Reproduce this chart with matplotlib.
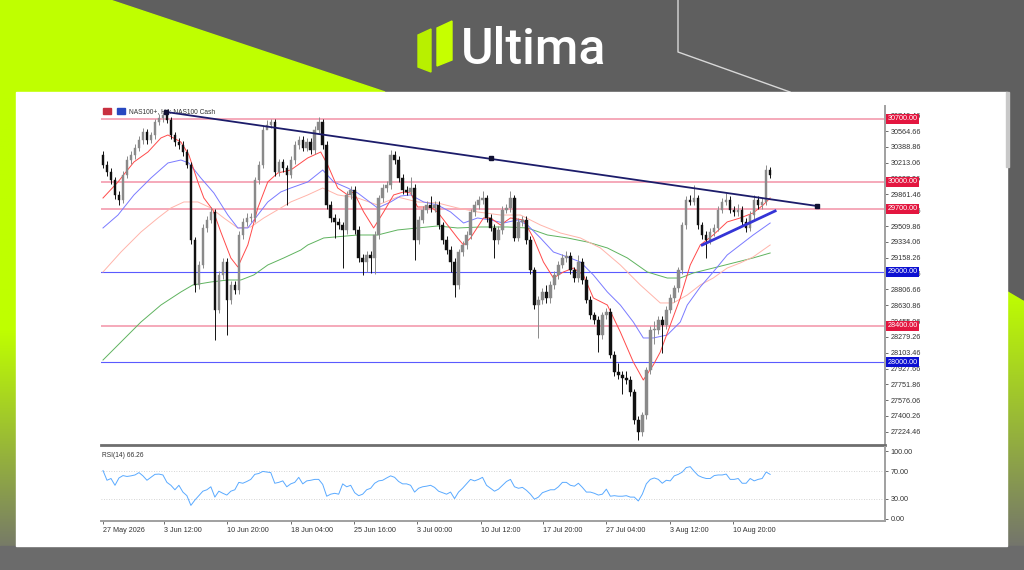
import matplotlib
matplotlib.use("Agg")
import matplotlib.pyplot as plt
import numpy as np
from matplotlib.patches import Polygon, Rectangle

# ---- candle data (NAS100, H4) ----
closes = [
    30190, 30110, 30020, 29855, 29800, 30080, 30245, 30300, 30380, 30465,
    30555, 30465, 30520, 30665, 30710, 30745, 30690, 30520, 30445, 30410,
    30335, 30190, 29355, 28855, 29080, 29490, 29580, 29665, 28580, 28965,
    29110, 28690, 28855, 28800, 29410, 29555, 29600, 29600, 30020, 30190,
    30580, 30635, 30665, 30110, 30220, 30155, 30080, 30245, 30410, 30465,
    30380, 30445, 30355, 30580, 30665, 30410, 29745, 29600, 29555, 29520,
    29465, 29855, 29910, 29465, 29155, 29110, 29190, 29155, 29410, 29820,
    29935, 29965, 30300, 30245, 30045, 29910, 29890, 29935, 29355, 29580,
    29690, 29745, 29710, 29745, 29520, 29355, 29245, 29110, 28855, 29220,
    29300, 29410, 29665, 29745, 29800, 29820, 29600, 29490, 29355, 29465,
    29690, 29710, 29820, 29380, 29555, 29580, 29355, 29020, 28635, 28690,
    28780, 28710, 28855, 28965, 29080, 29155, 29180, 29020, 28935, 29110,
    28910, 28690, 28520, 28465, 28300, 28520, 28555, 28080, 27890, 27855,
    27820, 27800, 27665, 27355, 27220, 27410, 27910, 28355, 28355, 28465,
    28410, 28580, 28710, 28820, 29020, 29520, 29800, 29780, 29820, 29520,
    29410, 29355, 29445, 29490, 29690, 29780, 29800, 29690, 29665, 29690,
    29555, 29490, 29635, 29800, 29745, 29780, 30135, 30080]
highs = [
    30340, 30230, 30150, 30060, 29900, 30120, 30290, 30345, 30420, 30510,
    30600, 30590, 30560, 30700, 30750, 30780, 30770, 30720, 30560, 30490,
    30450, 30370, 30220, 29390, 29120, 29530, 29620, 29720, 29700, 29010,
    29150, 29150, 28900, 28900, 29450, 29600, 29650, 29650, 30060, 30230,
    30620, 30690, 30700, 30700, 30260, 30260, 30190, 30290, 30450, 30510,
    30510, 30490, 30490, 30620, 30720, 30700, 30450, 29790, 29640, 29600,
    29560, 29900, 29950, 29950, 29510, 29200, 29230, 29230, 29450, 29860,
    29980, 30010, 30355, 30340, 30290, 30090, 29950, 30050, 29980, 29620,
    29730, 29790, 29840, 29790, 29790, 29560, 29400, 29290, 29150, 29260,
    29340, 29450, 29700, 29790, 29840, 29900, 29860, 29640, 29530, 29510,
    29730, 29750, 29900, 29860, 29600, 29620, 29620, 29400, 29060, 28730,
    28820, 28850, 28900, 29010, 29120, 29200, 29230, 29220, 29060, 29190,
    29150, 28950, 28730, 28560, 28510, 28560, 28600, 28600, 28120, 27990,
    27900, 27900, 27840, 27700, 27400, 27450, 27950, 28400, 28450, 28510,
    28510, 28620, 28750, 28860, 29060, 29560, 29840, 29850, 29965, 29860,
    29560, 29450, 29490, 29530, 29730, 29820, 29880, 29840, 29730, 29760,
    29730, 29600, 29680, 29850, 29840, 29820, 30190, 30170]
lows = [
    30150, 30070, 29980, 29810, 29745, 29770, 30040, 30200, 30260, 30340,
    30420, 30420, 30430, 30480, 30630, 30670, 30650, 30480, 30400, 30370,
    30290, 30150, 29310, 28780, 28810, 29040, 29440, 29540, 28245, 28540,
    28920, 28300, 28640, 28750, 28760, 29370, 29510, 29550, 29560, 29980,
    30150, 30590, 30600, 30070, 30070, 30110, 29745, 30040, 30200, 30370,
    30340, 30340, 30310, 30310, 30540, 30370, 29700, 29560, 29380, 29480,
    29045, 29420, 29810, 29420, 29110, 28965, 29000, 28990, 28980, 29370,
    29780, 29890, 29920, 30200, 30000, 29870, 29850, 29850, 29135, 29310,
    29540, 29650, 29670, 29670, 29480, 29310, 29200, 29000, 28720, 28810,
    29180, 29260, 29370, 29620, 29700, 29760, 29560, 29450, 29155, 29310,
    29420, 29650, 29670, 29340, 29340, 29510, 29310, 28980, 28590, 28265,
    28640, 28660, 28660, 28810, 28920, 29040, 29110, 28980, 28890, 28890,
    28870, 28650, 28480, 28420, 28110, 28260, 28480, 28040, 27850, 27810,
    27640, 27760, 27620, 27310, 27135, 27180, 27370, 27870, 28200, 28310,
    28100, 28370, 28540, 28670, 28780, 28980, 29480, 29740, 29740, 29480,
    29370, 29155, 29310, 29400, 29450, 29650, 29740, 29650, 29620, 29620,
    29510, 29445, 29450, 29590, 29700, 29700, 29740, 30040]
first_open = 30300
opens = [first_open] + closes[:-1]

rsi_values = [
    71.3, 57, 59.6, 49.6, 60.4, 63.9, 62.6, 63.5, 64.8, 68.3,
    63.5, 57, 61.3, 65.7, 66.1, 64.8, 53.9, 49.6, 43, 49.6,
    39.6, 34.3, 20.0, 27.8, 34.3, 40.9, 43, 47.4, 32.2, 40.9,
    37.8, 35.2, 40.9, 43, 53.9, 52.6, 55.2, 58.3, 65.7, 67,
    70, 69.1, 68.3, 52.6, 53.9, 56.1, 47.4, 51.7, 53.9, 61.3,
    51.7, 56.1, 57, 58.3, 58.3, 50.9, 33.5, 36.5, 37.8, 36.5,
    51.7, 47.4, 49.6, 38.7, 34.3, 36.5, 43, 45.2, 52.6, 56.1,
    57, 60.4, 63.5, 61.3, 55.2, 51.7, 51.7, 49.6, 39.6, 45.2,
    47.4, 48.3, 49.6, 46.5, 40.9, 38.7, 36.5, 39.6, 30, 39.6,
    45.2, 51.7, 58.3, 56.1, 58.3, 61.3, 49.6, 45.2, 40.9, 43.9,
    49.6, 55.2, 58.3, 47.4, 45.2, 46.5, 42.2, 36.5, 29.1, 32.2,
    38.7, 40.9, 43, 43, 47.4, 53.9, 53.9, 49.6, 48.3, 52.6,
    46.5, 39.6, 39.6, 37.8, 35.2, 36.5, 43.9, 33.5, 34.3, 33.5,
    33.5, 34.3, 32.2, 32.2, 26.5, 36.5, 51.7, 58.3, 60.4, 58.3,
    52.6, 57, 56.1, 63.5, 65.7, 69.1, 75.7, 77, 70, 63.9,
    61.3, 59.6, 59.6, 63.9, 64.8, 64.8, 66.1, 58.3, 58.3, 59.6,
    52.6, 52.6, 59.6, 56.1, 58.3, 59.6, 69.1, 65.7]

# moving averages, sampled along the chart (bar index, price)
ma_red_x = [0, 3.75, 7.75, 11.25, 14.5, 16.25, 19.5, 21.5, 23.75, 25.25, 27.5, 29.5, 32, 33.75,
            36.25, 38.75, 41.25, 43.75, 47, 51.25, 54.5, 56.25, 58.75, 61.25, 62.75, 65.25,
            67.75, 70.25, 72.75, 75.25, 77, 78.75, 82, 83.75, 86.25, 88.75, 90.25, 92, 95.25,
            97, 99.5, 102, 105.25, 107.75, 110.25, 112.75, 115.25, 117.75, 120.25, 122.75,
            126.25, 129.5, 132.75, 135.25, 137.75, 139.5, 142, 144.5, 147, 149.5, 152.75,
            156.25, 159.5, 162.75, 165.25, 167]
ma_red_y = [29822, 30000, 30222, 30333, 30489, 30522, 30444, 30300, 30000, 29822, 29689, 29444,
            29156, 29056, 29300, 29711, 30000, 30100, 30133, 30267, 30333, 30189, 29933, 29856,
            29889, 29667, 29489, 29667, 29856, 29889, 29878, 29722, 29722, 29667, 29522, 29378,
            29300, 29378, 29600, 29600, 29522, 29600, 29578, 29378, 29111, 28933, 29000, 29044,
            28967, 28711, 28633, 28333, 28000, 27800, 27967, 28111, 28411, 28711, 29078, 29300,
            29411, 29556, 29600, 29656, 29744, 29822]
ma_blue_x = [0, 3.75, 7.75, 12, 16.25, 19.5, 21.5, 24.5, 27.75, 31.25, 33.75, 36.25, 38.75,
             41.25, 44.5, 47, 51.25, 55, 57.75, 61.25, 63.75, 68.75, 72, 74.5, 77, 80.25, 83.75,
             87, 90.25, 93.75, 97, 100.25, 103.75, 106.25, 109.5, 112.75, 116.25, 119.5, 122.75,
             126.25, 129.5, 132.75, 135.25, 137.75, 141.25, 144.5, 146.25, 149.5, 152.75,
             156.25, 159.5, 162.75, 165.25, 167]
ma_blue_y = [29489, 29633, 29856, 30044, 30211, 30244, 30211, 30044, 29878, 29633, 29489, 29489,
             29633, 29778, 29889, 29933, 30000, 30133, 30000, 29933, 29878, 29711, 29778, 29844,
             29856, 29778, 29744, 29667, 29544, 29600, 29578, 29544, 29578, 29522, 29378, 29222,
             29167, 29111, 28967, 28778, 28633, 28444, 28267, 28267, 28300, 28444, 28633, 28833,
             29000, 29189, 29300, 29411, 29489, 29544]
ma_salmon_x = [0, 4.5, 9.5, 13.75, 17, 20.25, 23.75, 27, 30.25, 33.75, 37, 40.25, 44.5, 47,
               51.25, 55, 58.75, 63.75, 68.75, 73.75, 78.75, 83.75, 88.75, 93.75, 99.5, 104.5,
               109.5, 114.5, 119.5, 124.5, 129.5, 134.5, 139.5, 142.75, 146.25, 149.5, 152.75,
               156.25, 159.5, 162.75, 167]
ma_salmon_y = [29000, 29222, 29444, 29600, 29711, 29778, 29778, 29711, 29600, 29489, 29500,
               29600, 29711, 29778, 29856, 29933, 29856, 29822, 29744, 29833, 29778, 29767,
               29711, 29667, 29633, 29633, 29522, 29433, 29378, 29267, 29078, 28856, 28656,
               28656, 28744, 28856, 28933, 29044, 29100, 29167, 29300]
ma_green_x = [0, 4.5, 9.5, 14.5, 19.5, 22.5, 27, 31.25, 34.5, 37.75, 41.25, 45.25, 49.5, 51.25,
              55.25, 63.75, 68.75, 73.75, 78.75, 83.75, 88.75, 94.5, 101.25, 106.25, 111.25,
              116.25, 121.25, 126.25, 131.25, 136.25, 141.25, 144.5, 147.75, 152.75, 157.75,
              162.75, 167]
ma_green_y = [28022, 28222, 28444, 28633, 28778, 28856, 28889, 28911, 28911, 28967, 29078,
              29156, 29244, 29300, 29378, 29411, 29411, 29467, 29489, 29511, 29489, 29500,
              29500, 29489, 29411, 29378, 29333, 29267, 29156, 29000, 28933, 28933, 28989,
              29044, 29100, 29156, 29211]

# drawn objects
levels = [30700, 30000, 29700, 29000, 28400, 28000]
level_kind = ["r", "r", "r", "b", "r", "b"]
trend_x = [15.75, 97, 178.75]
trend_y = [30778, 30267, 29733]
support_x = [150, 168.25]
support_y = [29300, 29678]

price_ticks = [30740.46, 30564.66, 30388.86, 30213.06, 30037.26, 29861.46, 29685.66,
               29509.86, 29334.06, 29158.26, 28982.46, 28806.66, 28630.86, 28455.06,
               28279.26, 28103.46, 27927.66, 27751.86, 27576.06, 27400.26, 27224.46]
date_pos = [0, 15.25, 31, 47, 62.75, 78.5, 94.5, 110.25, 126, 142, 157.75]
date_labels = ["27 May 2026", "3 Jun 12:00", "10 Jun 20:00", "18 Jun 04:00", "25 Jun 16:00",
               "3 Jul 00:00", "10 Jul 12:00", "17 Jul 20:00", "27 Jul 04:00", "3 Aug 12:00",
               "10 Aug 20:00"]

W, H = 1024, 570
fig = plt.figure(figsize=(W / 100, H / 100), dpi=100)

# ---- branded background ----
bg = fig.add_axes([0, 0, 1, 1])
bg.set_xlim(0, W)
bg.set_ylim(H, 0)
bg.axis("off")
gray = np.array([95, 95, 95]) / 255
lime = np.array([191, 255, 0]) / 255
bg.add_patch(Rectangle((0, 0), W, H, color=gray, zorder=0))
bg.add_patch(Polygon([(0, 0), (110, 0), (385, 92), (16, 92), (16, 545), (0, 545)],
                     closed=True, color=lime, zorder=1))
# fade of the left strip towards the bottom
t = np.clip((np.linspace(92, 570, 200) - 330) / 230, 0, 1)[:, None]
grad_l = (lime * (1 - t) + np.array([0.45, 0.45, 0.43]) * t)[:, None, :]
bg.imshow(grad_l, extent=[0, 16, 570, 92], aspect="auto", zorder=2)
# right strip: lime appearing lower down
t2 = np.clip((np.linspace(290, 570, 200) - 290) / 260, 0, 1)[:, None]
grad_r = (lime * (1 - t2) + np.array([0.45, 0.45, 0.43]) * t2)[:, None, :]
bg.imshow(grad_r, extent=[1007, 1024, 570, 290], aspect="auto", zorder=2)
bg.add_patch(Polygon([(1007, 290), (1024, 300), (1024, 290)], closed=True, color=gray, zorder=3))
bg.add_patch(Rectangle((0, 546), W, 24, color="#6b6b6b", zorder=3))
bg.plot([678, 678, 790], [0, 52, 92], color="#d8d8d8", lw=1, zorder=3)
# logo
bg.add_patch(Polygon([(418, 35), (431, 29), (431, 72), (418, 67)], closed=True,
                     color="#b8f000", zorder=4))
bg.add_patch(Polygon([(437, 28), (452, 21), (452, 60), (437, 66)], closed=True,
                     color="#c6ff00", zorder=4))
bg.text(461, 64, "Ultima", color="white", fontsize=36, family="Roboto", weight="medium",
        ha="left", va="baseline", zorder=5)
# white panel and scroll strip
bg.add_patch(Rectangle((16, 92), 991, 454, color="white", zorder=4))
bg.add_patch(Rectangle((1006, 92), 3, 75, color="#c8c8c8", zorder=5))
# title icons
bg.add_patch(Rectangle((103, 108), 8, 6, color="#c83040", zorder=6))
bg.add_patch(Rectangle((117, 108), 8, 6, color="#2848c0", zorder=6))
bg.text(129, 111.5, "NAS100+, H4: NAS100 Cash", fontsize=4.8, color="#333333",
        family="Liberation Sans", va="center", zorder=6)

# ---- price pane ----
ax = fig.add_axes([101 / W, 125 / H, 784 / W, 339 / H])
ax.patch.set_alpha(0)
xi = np.arange(len(closes))
x_right = 195.75
ax.set_xlim(-0.5, x_right)
ax.set_ylim(27078, 30844)

for lv, k in zip(levels, level_kind):
    if k == "r":
        ax.axhline(lv, color="#f5a3b4", lw=1.3, zorder=1)
    else:
        ax.axhline(lv, color="#5a5aff", lw=0.8, zorder=1)

ax.plot(ma_green_x, ma_green_y, color="#5fb35f", lw=0.7, zorder=2)
ax.plot(ma_salmon_x, ma_salmon_y, color="#ffb4aa", lw=0.7, zorder=2)
ax.plot(ma_blue_x, ma_blue_y, color="#7a7aff", lw=0.7, zorder=2)
ax.plot(ma_red_x, ma_red_y, color="#ff4a4a", lw=0.7, zorder=2)

o = np.array(opens)
c = np.array(closes)
up = c >= o
col = np.where(up, "#8a8a8a", "#111111")
ax.vlines(xi, lows, highs, colors=col, lw=0.7, zorder=3)
body_lo = np.minimum(o, c)
body_h = np.maximum(np.abs(c - o), 12)
ax.bar(xi, body_h, bottom=body_lo, width=0.62, color=col, edgecolor=col, lw=0.3, zorder=4)

ax.plot(trend_x[::2], trend_y[::2], color="#1c1c6a", lw=1.3, zorder=5)
ax.plot(trend_x, trend_y, ls="none", marker="s", ms=2.2, color="#111133", zorder=6)
ax.plot(support_x, support_y, color="#3434d6", lw=2.0, zorder=5)

ax.yaxis.tick_right()
ax.set_yticks(price_ticks)
ax.set_yticklabels([f"{v:.2f}" for v in price_ticks])
ax.tick_params(axis="y", length=2.5, width=0.6, color="#555555", pad=1.5,
               labelsize=5.2, labelcolor="#333333")
for lab in ax.get_yticklabels():
    lab.set_family("Liberation Sans")
ax.set_xticks([])
for s in ["top", "left"]:
    ax.spines[s].set_visible(False)
ax.spines["right"].set_color("#a0a0a0")
ax.spines["right"].set_linewidth(1.4)
ax.spines["bottom"].set_color("#6e6e6e")
ax.spines["bottom"].set_linewidth(2)

ytr = ax.get_yaxis_transform()
for lv, k in zip(levels, level_kind):
    ax.text(1.003, lv, f"{lv:.2f}", transform=ytr, fontsize=5.2, color="white",
            family="Liberation Sans", va="center", ha="left", clip_on=False, zorder=10,
            bbox=dict(boxstyle="square,pad=0.18", fc="#e3163f" if k == "r" else "#0c10d2",
                      ec="none"))

# ---- RSI pane ----
ar = fig.add_axes([101 / W, 49 / H, 784 / W, 74 / H])
ar.patch.set_alpha(0)
ar.set_xlim(-0.5, x_right)
ar.set_ylim(-3, 106)
ar.axhline(70, color="#c8c8c8", lw=0.6, ls=(0, (1, 2)))
ar.axhline(30, color="#c8c8c8", lw=0.6, ls=(0, (1, 2)))
ar.plot(xi, rsi_values, color="#5aaaff", lw=0.7)
ar.text(0.001, 0.93, "RSI(14) 66.26", transform=ar.transAxes, fontsize=4.8,
        color="#333333", family="Liberation Sans", va="top", ha="left")
ar.yaxis.tick_right()
ar.set_yticks([100, 70, 30, 0])
ar.set_yticklabels(["100.00", "70.00", "30.00", "0.00"])
ar.tick_params(axis="y", length=2.5, width=0.6, color="#555555", pad=1.5,
               labelsize=5.2, labelcolor="#333333")
ar.set_xticks(date_pos)
ar.set_xticklabels(date_labels)
ar.tick_params(axis="x", length=2.5, width=0.6, color="#555555", pad=2,
               labelsize=5.2, labelcolor="#333333")
for lab in ar.get_xticklabels() + ar.get_yticklabels():
    lab.set_family("Liberation Sans")
for lab in ar.get_xticklabels():
    lab.set_ha("left")
for s in ["top", "left"]:
    ar.spines[s].set_visible(False)
ar.spines["right"].set_color("#a0a0a0")
ar.spines["right"].set_linewidth(1.4)
ar.spines["bottom"].set_color("#a0a0a0")
ar.spines["bottom"].set_linewidth(1.4)

fig.savefig("out.png", dpi=100)
